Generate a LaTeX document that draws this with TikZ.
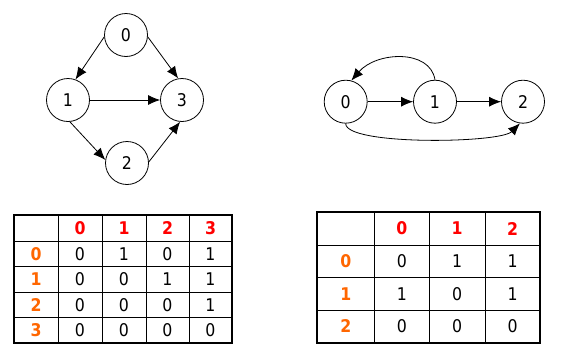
\documentclass[tikz,border=0pt]{standalone}
\usepackage{fontspec}
\setmainfont{DejaVu Sans Condensed}
\usetikzlibrary{arrows.meta}
\definecolor{hdrred}{RGB}{255,0,0}
\definecolor{roworange}{RGB}{255,102,0}
\newcommand{\digitfont}{\fontsize{17.5}{21}\selectfont}
\tikzset{
  vertex/.style={circle,draw,line width=0.8pt,minimum size=43pt,inner sep=0pt,font=\digitfont},
  edge/.style={line width=0.8pt,-{Latex[length=12pt,width=10pt]}},
  cell/.style={inner sep=0pt,font=\digitfont},
  hdr/.style={cell,text=hdrred,font=\digitfont\bfseries},
  rowlab/.style={cell,text=roworange,font=\digitfont\bfseries},
  inner/.style={line width=0.8pt},
  outer/.style={line width=1.8pt}
}
\begin{document}
\begin{tikzpicture}[x=1pt,y=-1pt]
\useasboundingbox (0,0) rectangle (575,351);
% left graph
\node[vertex] (a0) at (126,35) {0};
\node[vertex] (a1) at (68,100) {1};
\node[vertex] (a3) at (182,100) {3};
\node[vertex] (a2) at (127,163) {2};
\draw[edge] (a0.185) -- (a1.70);
\draw[edge] (a0.355) -- (a3.100);
\draw[edge] (a1) -- (a3);
\draw[edge] (a1.275) -- (a2.172);
\draw[edge] (a2.3) -- (a3.265);
% right graph
\node[vertex] (b0) at (345.7,101.7) {0};
\node[vertex] (b1) at (435,101.7) {1};
\node[vertex] (b2) at (523,101.7) {2};
\draw[edge] (b0) -- (b1);
\draw[edge] (b1) -- (b2);
\draw[edge] (b1.90) .. controls +(-5,-31) and +(25,-29) .. (b0.75);
\draw[edge] (b0.270) .. controls +(0,22) and +(-20,20) .. (b2.262);
% left table
\foreach \x in {58,102,146,189} \draw[inner] (\x,215) -- (\x,343);
\foreach \y in {241,266.5,292,317.5} \draw[inner] (14,\y) -- (232,\y);
\draw[outer] (14,215) rectangle (232,343);
\foreach \t [count=\i] in {0,1,2,3} {
  \pgfmathsetmacro\cx{{36,80,124,167.5,210.5}[\i]}
  \pgfmathsetmacro\cy{{228,253.75,279.25,304.75,330.25}[\i]}
  \node[hdr] (lh\i) at (\cx,228) {\t};
  \node[rowlab] (lr\i) at (36,\cy) {\t};
}
\foreach \r/\vals in {1/{0,1,0,1},2/{0,0,1,1},3/{0,0,0,1},4/{0,0,0,0}} {
  \foreach \v [count=\c] in \vals {
    \pgfmathsetmacro\cx{{36,80,124,167.5,210.5}[\c]}
    \pgfmathsetmacro\cy{{228,253.75,279.25,304.75,330.25}[\r]}
    \node[cell] (lc\r\c) at (\cx,\cy) {\v};
  }
}
% right table
\foreach \x in {374.3,429.3,485} \draw[inner] (\x,212.3) -- (\x,342.7);
\foreach \y in {245,277.7,310} \draw[inner] (317.3,\y) -- (540,\y);
\draw[outer] (317.3,212.3) rectangle (540,342.7);
\foreach \t [count=\i] in {0,1,2} {
  \pgfmathsetmacro\cx{{345.8,401.8,457.2,512.5}[\i]}
  \pgfmathsetmacro\cy{{228.6,261.3,293.8,326.3}[\i]}
  \node[hdr] (rh\i) at (\cx,228.6) {\t};
  \node[rowlab] (rr\i) at (345.8,\cy) {\t};
}
\foreach \r/\vals in {1/{0,1,1},2/{1,0,1},3/{0,0,0}} {
  \foreach \v [count=\c] in \vals {
    \pgfmathsetmacro\cx{{345.8,401.8,457.2,512.5}[\c]}
    \pgfmathsetmacro\cy{{228.6,261.3,293.8,326.3}[\r]}
    \node[cell] (rc\r\c) at (\cx,\cy) {\v};
  }
}
\end{tikzpicture}
\end{document}
